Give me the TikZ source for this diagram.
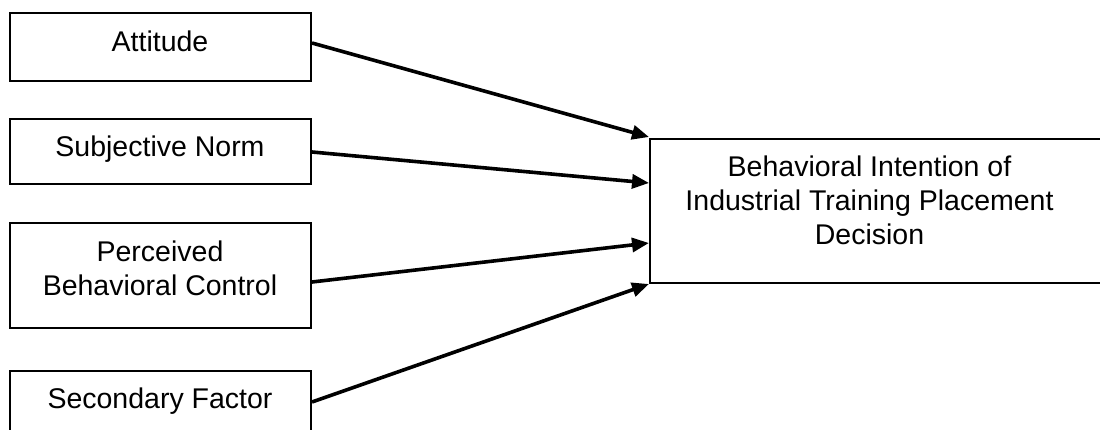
\documentclass[tikz,border=0pt]{standalone}
\usepackage{fontspec}
\setmainfont{Liberation Sans}
\usetikzlibrary{arrows.meta}
\tikzset{
  box/.style={draw=black, line width=2pt, fill=white, inner sep=0pt, rectangle},
  txt/.style={inner sep=0pt, anchor=base, font=\fontsize{28.5pt}{34pt}\selectfont},
  conn/.style={line width=3.6pt, -{Triangle[length=17pt,width=14pt]}}
}
\begin{document}
\begin{tikzpicture}[x=1pt,y=-1pt]
\useasboundingbox (0,0) rectangle (1100,430);
\clip (0,0) rectangle (1100,430);
\fill[white] (0,0) rectangle (1100,430);
% left boxes
\node[box, minimum width=301.5pt, minimum height=68pt] (att) at (160.25,47) {};
\node[box, minimum width=301.5pt, minimum height=65pt] (sn) at (160.25,151.5) {};
\node[box, minimum width=301.5pt, minimum height=105pt] (pbc) at (160.25,275.5) {};
\node[box, minimum width=301.5pt, minimum height=80pt] (sf) at (160.25,411) {};
% right box
\node[box, minimum width=470pt, minimum height=144pt] (bi) at (885,211) {};
% texts
\node[txt] (tatt) at (160,51.7) {Attitude};
\node[txt] (tsn) at (160,156.7) {Subjective Norm};
\node[txt] (tpbc1) at (160,261.7) {Perceived};
\node[txt] (tpbc2) at (160,295) {Behavioral Control};
\node[txt] (tsf) at (160,408) {Secondary Factor};
\node[txt] (tbi1) at (869.5,176.7) {Behavioral Intention of};
\node[txt] (tbi2) at (869.5,211) {Industrial Training Placement};
\node[txt] (tbi3) at (869.5,245) {Decision};
% connectors
\draw[conn] ([yshift=4pt]att.east) -- ([yshift=1pt]bi.north west);
\draw[conn] ([yshift=-0.5pt]sn.east) -- ([yshift=28pt]bi.west);
\draw[conn] ([yshift=-6.5pt]pbc.east) -- ([yshift=-32pt]bi.west);
\draw[conn] ([yshift=9pt]sf.east) -- (bi.south west);
\end{tikzpicture}
\end{document}
